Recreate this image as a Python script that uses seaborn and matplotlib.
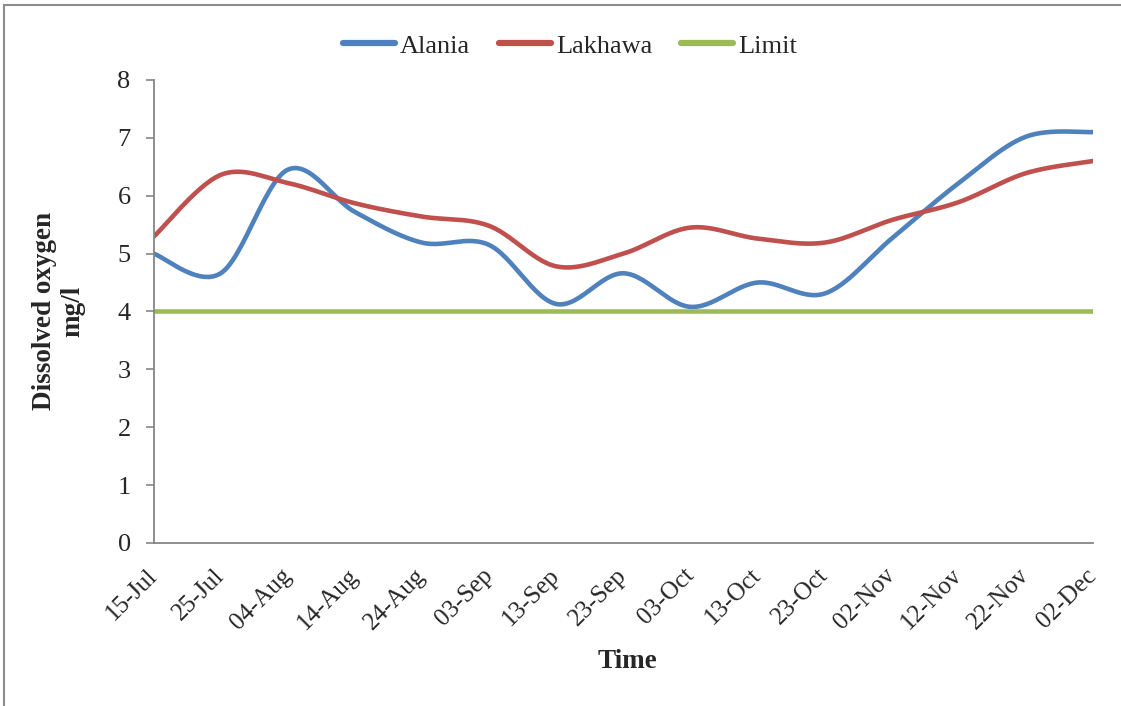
import numpy as np
import pandas as pd
import matplotlib
matplotlib.use('Agg')
import matplotlib.pyplot as plt
import seaborn as sns

# 자료
dates = ['15-Jul', '25-Jul', '04-Aug', '14-Aug', '24-Aug', '03-Sep', '13-Sep', '23-Sep',
         '03-Oct', '13-Oct', '23-Oct', '02-Nov', '12-Nov', '22-Nov', '02-Dec']
alania = [5.0, 4.66, 6.45, 5.72, 5.19, 5.15, 4.13, 4.66, 4.08, 4.5, 4.31, 5.26, 6.22, 7.02, 7.1]
lakhawa = [5.29, 6.36, 6.22, 5.87, 5.64, 5.48, 4.78, 5.0, 5.45, 5.26, 5.19, 5.58, 5.89, 6.39, 6.6]
limit = [4.0] * len(dates)

series = {'Alania': alania, 'Lakhawa': lakhawa, 'Limit': limit}
colors = {'Alania': '#4F81BD', 'Lakhawa': '#C0504D', 'Limit': '#9BBB59'}


def smooth(y, n=30):
    # 엑셀 '부드러운 선' 처럼 베지어 곡선으로 연결
    x = np.arange(len(y), dtype=float)
    y = np.asarray(y, dtype=float)
    px = np.concatenate([[x[0]], x, [x[-1]]])
    py = np.concatenate([[y[0]], y, [y[-1]]])
    xs, ys = [], []
    t = np.linspace(0, 1, n)
    for i in range(len(y) - 1):
        p0 = np.array([x[i], y[i]])
        p3 = np.array([x[i + 1], y[i + 1]])
        p1 = p0 + (np.array([px[i + 2], py[i + 2]]) - np.array([px[i], py[i]])) / 6
        p2 = p3 - (np.array([px[i + 3], py[i + 3]]) - np.array([px[i + 1], py[i + 1]])) / 6
        b = ((1 - t) ** 3)[:, None] * p0 + (3 * (1 - t) ** 2 * t)[:, None] * p1 \
            + (3 * (1 - t) * t ** 2)[:, None] * p2 + (t ** 3)[:, None] * p3
        xs.extend(b[:, 0]); ys.extend(b[:, 1])
    return xs, ys


rows = []
for name, vals in series.items():
    xs, ys = smooth(vals)
    for k, (a, b) in enumerate(zip(xs, ys)):
        rows.append({'x': a, 'DO': b, 'site': name, 'order': k})
df = pd.DataFrame(rows)

sns.set_style('white')
plt.rcParams['font.family'] = ['Liberation Serif', 'DejaVu Serif']

fig = plt.figure(figsize=(11.21, 7.06), dpi=100)
ax = fig.add_axes([0.137, 0.2309, 0.838, 0.6558])

sns.lineplot(data=df, x='x', y='DO', hue='site', palette=colors, sort=False,
             estimator=None, units='site', linewidth=3.3, ax=ax,
             solid_capstyle='round')

ax.set_xlim(0, len(dates) - 1)
ax.set_ylim(0, 8)
ax.set_yticks(range(0, 9))
ax.set_xticks(range(len(dates)))
ax.set_xticklabels(dates, rotation=45, ha='right', va='center', rotation_mode='anchor')

for s in ['top', 'right']:
    ax.spines[s].set_visible(False)
for s in ['left', 'bottom']:
    ax.spines[s].set_color('#868686')
    ax.spines[s].set_linewidth(1.3)
ax.tick_params(axis='y', length=5.5, width=1.2, color='#868686', pad=11, labelsize=19, direction='out', left=True)
ax.tick_params(axis='x', length=0, pad=21, labelsize=18)

ax.set_xlabel('Time', fontsize=19.5, fontweight='bold', va='center')
ax.xaxis.set_label_coords(0.504, -0.257)
ax.set_ylabel('Dissolved oxygen\nmg/l', fontsize=19.5, fontweight='bold', va='center')
ax.yaxis.set_label_coords(-0.101, 0.5)

leg = ax.legend(loc='center', bbox_to_anchor=(0.5085, 0.935), bbox_transform=fig.transFigure,
                ncol=3, frameon=False, fontsize=19, handlelength=1.95, handletextpad=0.2,
                columnspacing=1.1)
for h in leg.get_lines():
    h.set_linewidth(4.5)
    h.set_solid_capstyle('round')

# 바깥 테두리 (왼쪽, 위)
fig.add_artist(plt.Line2D([4 / 1121, 4 / 1121], [0, 1 - 5 / 706], transform=fig.transFigure, color='#8c8c8c', lw=1.5))
fig.add_artist(plt.Line2D([4 / 1121, 1], [1 - 5 / 706, 1 - 5 / 706], transform=fig.transFigure, color='#8c8c8c', lw=1.5))

fig.savefig('out.png', dpi=100)
